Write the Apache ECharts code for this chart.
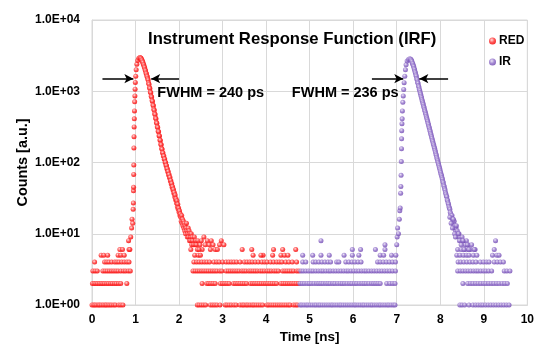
<!DOCTYPE html>
<html>
<head>
<meta charset="utf-8">
<script src="https://cdn.jsdelivr.net/npm/echarts@6/dist/echarts.min.js"></script>
<style>
html, body { margin: 0; padding: 0; background: #fff; }
#chart { width: 537px; height: 349px; }
</style>
</head>
<body>
<div id="chart"></div>
<script>
// axis ticks
const xTicks = [0, 1, 2, 3, 4, 5, 6, 7, 8, 9, 10];
const yTicks = [1, 10, 100, 1000, 10000];

// RED: times (ns) of the low-count channels, one array per count level
const redLevel1 = [0.00,0.04,0.07,0.11,0.15,0.18,0.22,0.26,0.30,0.33,0.37,0.41,0.45,0.50,0.54,0.61,0.66,0.71,
  2.42,2.46,2.51,2.56,2.61,2.72,2.77,2.82,2.87,2.94,3.06,3.10,3.15,3.20,3.26,3.31,3.40,3.45,3.49,3.54,3.58,3.63,
  3.68,3.72,3.77,3.82,3.87,3.92,4.02,4.06,4.11,4.16,4.21,4.26,4.31,4.36,4.41,4.46,4.51,4.55,4.63,4.68,4.72];
const redLevel2 = [0.01,0.05,0.09,0.13,0.17,0.21,0.25,0.29,0.34,0.38,0.43,0.47,0.52,0.56,0.61,0.66,0.80,
  2.53,2.64,2.68,2.73,2.78,2.83,2.95,3.00,3.05,3.10,3.15,3.25,3.30,3.35,3.40,3.45,3.50,3.55,3.64,3.69,3.74,3.79,
  3.84,3.89,3.94,3.99,4.04,4.09,4.14,4.19,4.24,4.34,4.39,4.44,4.49,4.54,4.59,4.64,4.69,4.74];
const redLevel3 = [0.02,0.07,0.12,0.25,0.30,0.35,0.40,0.45,0.50,0.55,0.60,0.66,0.72,0.77,0.83,0.88,
  2.32,2.37,2.42,2.47,2.52,2.57,2.62,2.67,2.72,2.77,2.82,2.87,2.93,2.98,3.08,3.13,3.18,3.23,3.28,3.33,3.38,3.44,
  3.49,3.54,3.60,3.65,3.70,3.75,3.80,3.86,3.91,3.96,4.02,4.07,4.12,4.18,4.23,4.28,4.38,4.43,4.48,4.53,4.58,4.63,4.70,4.75];
const redLevel4 = [0.06,0.29,0.34,0.39,0.45,0.52,0.57,0.62,0.68,0.74,0.80,0.85,
  2.34,2.40,2.46,2.52,2.58,2.64,2.70,2.80,2.86,2.92,3.00,3.08,3.14,3.20,3.26,3.32,3.40,3.50,3.56,3.62,3.68,3.75,
  3.82,3.90,3.96,4.02,4.10,4.17,4.24,4.30,4.36,4.45,4.52,4.60,4.70];
const redLevel5 = [0.21,0.27,0.36,0.60,0.66,0.74,2.36,2.44,2.49,3.70,3.93,4.15,4.34,4.42,4.50];
const redLevel6 = [0.64,0.70,0.85,2.27,2.42,2.53,2.72,2.83,3.67,4.17,4.38,4.68];
// RED: rise, peak, decay and tail as [time ns, counts]
const redPeak = [[0.84,8],[0.87,6],[0.89,9],[0.91,12],[0.92,16],[0.935,14],[0.945,22],[0.95,27],[0.952,40],[0.955,45],
  [0.958,68],[0.96,92],[0.962,160],[0.965,230],[0.968,316],[0.972,410],[0.976,530],[0.98,710],[0.985,860],[0.99,1070],
  [0.995,1330],[1.005,1620],[1.015,2000],[1.03,2400],[1.05,2700],[1.075,2900],[1.10,2980],
  [1.11,2960],[1.12,2900],[1.13,2880],[1.14,2760],[1.15,2720],[1.16,2590],[1.17,2540],[1.18,2400],[1.19,2340],[1.20,2200],
  [1.21,2140],[1.22,2000],[1.23,1940],[1.24,1810],[1.25,1760],[1.26,1640],[1.27,1600],[1.28,1500],
  [1.29,1440],[1.30,1310],[1.31,1250],[1.32,1130],[1.33,1090],[1.34,980],[1.35,950],[1.36,850],[1.37,830],[1.38,740],
  [1.39,720],[1.40,640],[1.41,625],[1.42,560],[1.43,540],[1.44,485],[1.45,470],[1.46,420],[1.47,410],[1.48,365],
  [1.49,355],[1.50,318],[1.51,310],[1.52,275],[1.53,270],[1.54,238],[1.55,235],[1.56,207],[1.57,204],[1.58,180],
  [1.59,177],[1.60,157],[1.61,153],[1.62,137],[1.63,136],[1.64,123],[1.65,123],[1.66,111],[1.67,112],[1.68,100],
  [1.69,101],[1.70,91],[1.71,91],[1.72,82],[1.73,82],[1.74,74],[1.75,75],[1.76,67],[1.77,68],[1.78,61],[1.79,62],
  [1.80,55],[1.81,56],[1.82,50],[1.83,51],[1.84,45],[1.85,46],[1.86,41],[1.87,42],[1.88,37],[1.89,38],[1.90,33],
  [1.91,35],[1.92,30],[1.93,31],[1.94,27],[1.95,29],[1.96,24],[1.97,26],[1.98,22],[1.99,23],[2.00,20],[2.01,21],
  [2.02,18],[2.03,19],[2.04,17],[2.05,15],[2.06,18],[2.07,14],[2.08,16],[2.09,13],[2.10,15],[2.11,12],[2.12,14],
  [2.13,11],[2.14,13],[2.15,10],[2.16,12],[2.17,14],[2.18,11],[2.19,9],[2.20,10],[2.21,12],[2.22,9],[2.23,11],
  [2.24,8],[2.25,10],[2.26,9],[2.27,8],[2.28,10],[2.29,7],[2.30,9],[2.31,8],[2.33,7],[2.35,9],[2.37,7],[2.38,8],
  [2.40,7],[2.43,8],[2.46,6],[2.48,7],[2.51,8],[2.57,9],[2.60,7],[2.65,8],[2.69,7],[2.74,8],[2.78,7],[2.88,6],
  [2.93,7],[2.97,8],[3.03,7],[3.45,6],[3.88,5]];

// IR: same layout
const irLevel1 = [4.78,4.82,4.87,4.92,4.96,5.01,5.06,5.11,5.15,5.20,5.24,5.29,5.34,5.39,5.44,5.49,5.53,5.58,5.63,
  5.68,5.72,5.77,5.82,5.87,5.92,5.97,6.02,6.06,6.11,6.16,6.21,6.25,6.30,6.35,6.40,6.44,6.49,6.54,6.59,6.63,6.68,
  6.73,6.78,6.82,6.87,6.92,6.96,
  8.45,8.50,8.56,8.66,8.75,8.81,8.87,8.93,8.98,9.04,9.10,9.16,9.22,9.28,9.34,9.40,9.46,9.52,9.58];
const irLevel2 = [4.78,4.83,4.88,4.94,4.99,5.04,5.10,5.16,5.21,5.26,5.31,5.37,5.42,5.47,5.53,5.58,5.64,5.70,5.75,
  5.80,5.86,5.92,5.97,6.03,6.08,6.14,6.20,6.25,6.30,6.36,6.42,6.47,6.52,6.57,6.62,6.77,6.84,6.90,6.96,
  8.52,8.63,8.69,8.75,8.81,8.87,8.93,8.99,9.05,9.11,9.17,9.23,9.29,9.35,9.42,9.48,9.54];
const irLevel3 = [4.80,4.85,4.91,4.97,5.03,5.08,5.14,5.20,5.26,5.31,5.37,5.43,5.48,5.54,5.60,5.66,5.72,5.78,5.84,
  5.89,5.95,6.01,6.07,6.13,6.19,6.25,6.30,6.36,6.42,6.48,6.54,6.60,6.66,6.72,6.78,6.84,6.90,6.97,
  8.40,8.46,8.52,8.58,8.64,8.70,8.76,8.82,8.87,8.93,8.99,9.05,9.11,9.18,9.47,9.53,9.60];
const irLevel4 = [4.84,4.91,5.08,5.14,5.21,5.28,5.35,5.42,5.48,5.62,5.67,5.83,5.90,5.97,6.04,6.11,6.18,6.56,6.62,
  6.69,6.76,6.83,6.90,6.97,
  8.41,8.47,8.54,8.61,8.68,8.75,8.82,8.92,8.99,9.06,9.12,9.24,9.31,9.38,9.45];
const irLevel5 = [4.84,5.07,5.26,5.45,5.79,5.98,6.13,6.62,6.70,6.88,8.38,8.45,8.53,8.60,8.66,8.76,8.84,9.20,9.30];
const irLevel6 = [5.98,6.17,6.51,6.73,8.40,8.48,8.55,8.63,8.80,9.24];
const irPeak = [[5.26,8],[6.73,7],[6.98,5],[7.00,7],[7.01,9],[7.02,12],[7.04,10],[7.06,16],[7.07,21],[7.08,23],
  [7.09,37],[7.095,46],[7.10,66],[7.105,103],[7.11,156],[7.112,215],[7.115,280],[7.12,350],[7.125,410],[7.13,530],
  [7.14,700],[7.15,860],[7.16,1060],[7.17,1320],[7.185,1630],[7.20,2000],[7.215,2350],[7.24,2650],[7.27,2800],[7.30,2850],
  [7.32,2820],[7.33,2760],[7.34,2680],[7.35,2600],[7.36,2480],[7.37,2420],[7.38,2290],[7.39,2220],[7.40,2080],
  [7.41,2010],[7.42,1880],[7.43,1810],[7.44,1690],[7.45,1630],[7.46,1500],[7.47,1450],[7.48,1340],[7.49,1290],
  [7.50,1190],[7.51,1150],[7.52,1070],[7.53,1020],[7.54,950],[7.55,910],[7.56,850],[7.57,810],[7.58,760],[7.59,725],
  [7.60,685],[7.61,650],[7.62,612],[7.63,585],[7.64,550],[7.65,525],[7.66,495],[7.67,470],[7.68,442],[7.69,420],
  [7.70,398],[7.71,378],[7.72,355],[7.73,340],[7.74,318],[7.75,305],[7.76,285],[7.77,272],[7.78,256],[7.79,244],
  [7.80,230],[7.81,218],[7.82,205],[7.83,196],[7.84,184],[7.85,176],[7.86,165],[7.87,158],[7.88,148],[7.89,140],
  [7.90,132],[7.91,126],[7.92,118],[7.93,112],[7.94,106],[7.95,100],[7.96,95],[7.97,90],[7.98,85],[7.99,81],
  [8.00,76],[8.01,72],[8.02,68],[8.03,65],[8.04,61],[8.05,58],[8.06,54],[8.07,52],[8.08,48],[8.09,46],[8.10,43],
  [8.11,41],[8.12,38],[8.13,36],[8.14,34],[8.15,33],[8.16,30],[8.17,29],[8.18,27],[8.19,26],[8.20,24],[8.21,23],
  [8.22,22],[8.23,20],[8.24,19],[8.25,18],[8.26,17],[8.27,18],[8.28,15],[8.29,16],[8.30,14],[8.31,13],[8.32,15],
  [8.33,12],[8.34,13],[8.35,11],[8.36,12],[8.38,10],[8.39,11],[8.41,9],[8.43,10],[8.45,9],[8.47,8],[8.50,9],
  [8.53,8],[8.57,7],[8.60,8],[8.64,7],[8.70,6],[8.22,17],[8.25,14],[8.28,12],[8.30,16],[8.33,10],[8.35,9],
  [8.37,13],[8.42,10],[8.44,8],[8.48,7],[8.52,8],[8.55,6],[8.62,7],[8.66,6],[8.72,7],[8.78,6],[9.27,8],[9.35,5]];

// FWHM arrows: [from, to] in ns at the half-height level
const arrowLevel = 1500;
const redArrows = [[0.24, 0.95], [2.00, 1.36]];
const irArrows = [[6.43, 7.15], [8.18, 7.52]];
const fwhmLabels = [{ t: 1.50, c: 950, text: 'FWHM = 240 ps' }, { t: 4.59, c: 950, text: 'FWHM = 236 ps' }];

const FONT = '"Liberation Sans", Arial, sans-serif';

function collect(levels, peak) {
  const out = [];
  levels.forEach((ts, i) => ts.forEach(t => out.push([t, i + 1])));
  return out.concat(peak);
}
const redData = collect([redLevel1, redLevel2, redLevel3, redLevel4, redLevel5, redLevel6], redPeak);
const irData = collect([irLevel1, irLevel2, irLevel3, irLevel4, irLevel5, irLevel6], irPeak);

function dot(light, mid, dark) {
  return { type: 'radial', x: 0.4, y: 0.35, r: 0.7,
    colorStops: [{ offset: 0, color: light }, { offset: 0.5, color: mid }, { offset: 1, color: dark }] };
}

function arrows(list) {
  return {
    silent: true,
    symbol: ['none', 'arrow'],
    symbolSize: [7, 9],
    lineStyle: { color: '#000', width: 1.5, type: 'solid' },
    label: { show: false },
    data: list.map(a => [{ coord: [a[0], arrowLevel] }, { coord: [a[1], arrowLevel] }])
  };
}

function fwhm(l) {
  return {
    silent: true,
    data: [{
      coord: [l.t, l.c], symbol: 'circle', symbolSize: 0.1,
      label: { show: true, position: 'right', distance: 0, formatter: l.text,
        color: '#000', fontWeight: 'bold', fontSize: 14.5, fontFamily: FONT }
    }]
  };
}

const chart = echarts.init(document.getElementById('chart'), null, { renderer: 'canvas' });
chart.setOption({
  animation: false,
  backgroundColor: '#fff',
  title: {
    text: 'Instrument Response Function (IRF)',
    left: 148, top: 31, padding: 0,
    textStyle: { fontSize: 16.7, fontWeight: 'bold', color: '#000', fontFamily: FONT }
  },
  legend: {
    orient: 'vertical', left: 489, top: 35, padding: 0,
    itemWidth: 7, itemHeight: 7, itemGap: 9, icon: 'circle',
    textStyle: { fontSize: 12, fontWeight: 'bold', color: '#000', fontFamily: FONT, padding: [0, 0, 0, -2] },
    data: ['RED', 'IR']
  },
  grid: { left: 92, right: 5, top: 20, bottom: 41, show: true, borderColor: '#d9d9d9', borderWidth: 1 },
  xAxis: {
    type: 'value', min: xTicks[0], max: xTicks[xTicks.length - 1], interval: 1,
    name: 'Time [ns]', nameLocation: 'middle', nameGap: 25, nameMoveOverlap: false,
    nameTextStyle: { fontSize: 13.5, fontWeight: 'bold', color: '#000', fontFamily: FONT },
    axisLine: { lineStyle: { color: '#d9d9d9' } },
    axisTick: { show: false },
    axisLabel: { fontSize: 12, fontWeight: 'bold', color: '#000', fontFamily: FONT, margin: 9 },
    splitLine: { lineStyle: { color: '#d9d9d9' } }
  },
  yAxis: {
    type: 'log', logBase: 10, min: yTicks[0], max: yTicks[yTicks.length - 1],
    name: 'Counts [a.u.]', nameLocation: 'middle', nameGap: 62, nameMoveOverlap: false,
    nameTextStyle: { fontSize: 14.4, fontWeight: 'bold', color: '#000', fontFamily: FONT },
    axisLine: { show: true, lineStyle: { color: '#d9d9d9' } },
    axisTick: { show: false },
    axisLabel: {
      fontSize: 12, fontWeight: 'bold', color: '#000', fontFamily: FONT, margin: 12,
      formatter: v => '1.0E+' + String(Math.round(Math.log10(v))).padStart(2, '0')
    },
    splitLine: { lineStyle: { color: '#d9d9d9' } }
  },
  series: [
    {
      name: 'RED', type: 'scatter', symbol: 'circle', symbolSize: 5,
      itemStyle: { color: dot('#ffdada', '#ff3c3c', '#f20000'), opacity: 0.85 },
      data: redData,
      markLine: arrows(redArrows),
      markPoint: fwhm(fwhmLabels[0])
    },
    {
      name: 'IR', type: 'scatter', symbol: 'circle', symbolSize: 5,
      itemStyle: { color: dot('#e9e0f5', '#9677cc', '#7048b0'), opacity: 0.85 },
      data: irData,
      markLine: arrows(irArrows),
      markPoint: fwhm(fwhmLabels[1])
    }
  ]
});
</script>
</body>
</html>
